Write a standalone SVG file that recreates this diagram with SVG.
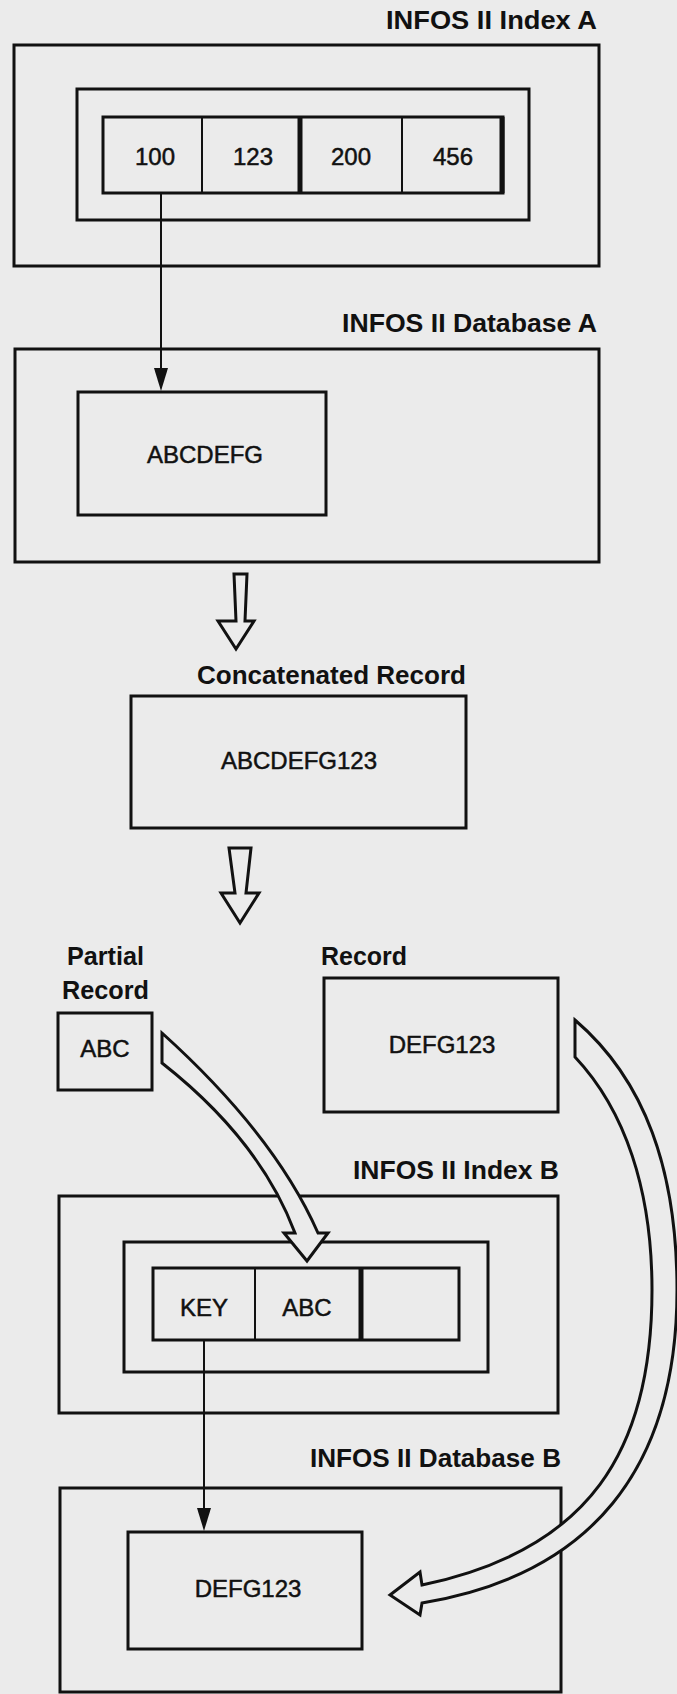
<svg xmlns="http://www.w3.org/2000/svg" width="677" height="1694" viewBox="0 0 677 1694">
<style>
.bg{fill:#ebebeb}
.box{fill:none;stroke:#111;stroke-width:3}
.thin{fill:none;stroke:#111;stroke-width:2}
.thick{fill:none;stroke:#111;stroke-width:5}
.title{font-family:"Liberation Sans",Arial,sans-serif;font-weight:bold;font-size:25px;fill:#111}
.lbl{font-family:"Liberation Sans",Arial,sans-serif;font-size:24px;fill:#111;stroke:#111;stroke-width:0.5;text-anchor:middle}
.hollow{fill:#ebebeb;stroke:#111;stroke-width:3;stroke-linejoin:miter}
.conn{stroke:#111;stroke-width:2;fill:none}
.head{fill:#111}
</style>
<rect class="bg" x="0" y="0" width="677" height="1694"/>

<g id="indexA">
<text class="title" x="386" y="29" textLength="211" lengthAdjust="spacingAndGlyphs">INFOS II Index A</text>
<rect class="box" x="14" y="45" width="585" height="221"/>
<rect class="box" x="77" y="89" width="452" height="131"/>
<rect class="box" x="103" y="117" width="400" height="76"/>
<line class="thin" x1="202" y1="117" x2="202" y2="193"/>
<line class="thick" x1="300" y1="117" x2="300" y2="193"/>
<line class="thin" x1="402" y1="117" x2="402" y2="193"/>
<line class="thick" x1="502" y1="117" x2="502" y2="193"/>
<text class="lbl" x="155" y="165">100</text>
<text class="lbl" x="253" y="165">123</text>
<text class="lbl" x="351" y="165">200</text>
<text class="lbl" x="453" y="165">456</text>
</g>

<g id="databaseA">
<text class="title" x="342" y="332" textLength="255" lengthAdjust="spacingAndGlyphs">INFOS II Database A</text>
<rect class="box" x="15" y="349" width="584" height="213"/>
<rect class="box" x="78" y="392" width="248" height="123"/>
<text class="lbl" x="205" y="463">ABCDEFG</text>
</g>

<g id="concatenated">
<text class="title" x="197" y="684" textLength="269" lengthAdjust="spacingAndGlyphs">Concatenated Record</text>
<rect class="box" x="131" y="696" width="335" height="132"/>
<text class="lbl" x="299" y="769">ABCDEFG123</text>
</g>

<g id="partial">
<text class="title" x="67" y="965" textLength="77" lengthAdjust="spacingAndGlyphs">Partial</text>
<text class="title" x="62" y="999" textLength="87" lengthAdjust="spacingAndGlyphs">Record</text>
<rect class="box" x="58" y="1013" width="94" height="77"/>
<text class="lbl" x="105" y="1057">ABC</text>
</g>

<g id="record">
<text class="title" x="321" y="965" textLength="86" lengthAdjust="spacingAndGlyphs">Record</text>
<rect class="box" x="324" y="978" width="234" height="134"/>
<text class="lbl" x="442" y="1053">DEFG123</text>
</g>

<g id="indexB">
<text class="title" x="353" y="1179" textLength="206" lengthAdjust="spacingAndGlyphs">INFOS II Index B</text>
<rect class="box" x="59" y="1196" width="499" height="217"/>
<rect class="box" x="124" y="1242" width="364" height="130"/>
<rect class="box" x="153" y="1268" width="306" height="72"/>
<line class="thin" x1="255" y1="1268" x2="255" y2="1340"/>
<line class="thick" x1="361" y1="1268" x2="361" y2="1340"/>
<text class="lbl" x="204" y="1316">KEY</text>
<text class="lbl" x="307" y="1316">ABC</text>
</g>

<g id="databaseB">
<text class="title" x="310" y="1467" textLength="251" lengthAdjust="spacingAndGlyphs">INFOS II Database B</text>
<rect class="box" x="60" y="1488" width="501" height="204"/>
<rect class="box" x="128" y="1532" width="234" height="117"/>
<text class="lbl" x="248" y="1597">DEFG123</text>
</g>

<g id="connectors">
<line class="conn" x1="161" y1="193" x2="161" y2="370"/>
<polygon class="head" points="154,368 168,368 161,391"/>
<line class="conn" x1="204" y1="1340" x2="204" y2="1510"/>
<polygon class="head" points="197,1508 211,1508 204,1531"/>
<path class="hollow" d="M234,574 H247 L245,621 H254 L236,649 L218,621 H236 Z"/>
<path class="hollow" d="M229,848 H251 L246,893 H259 L240,923 L221,893 H235 Z"/>
<path class="hollow" d="M162,1033 Q275,1135 318,1233 L328,1233 L307,1261 L284,1233 L295,1233 Q260,1140 162,1063 Z"/>
<path class="hollow" d="M575,1020 C645,1080 677,1170 677,1290 C677,1470 590,1575 422,1603 L420,1615 L390,1595 L420,1572 L422,1585 C590,1550 652,1450 652,1290 C652,1190 625,1110 575,1057 Z"/>
</g>
</svg>
